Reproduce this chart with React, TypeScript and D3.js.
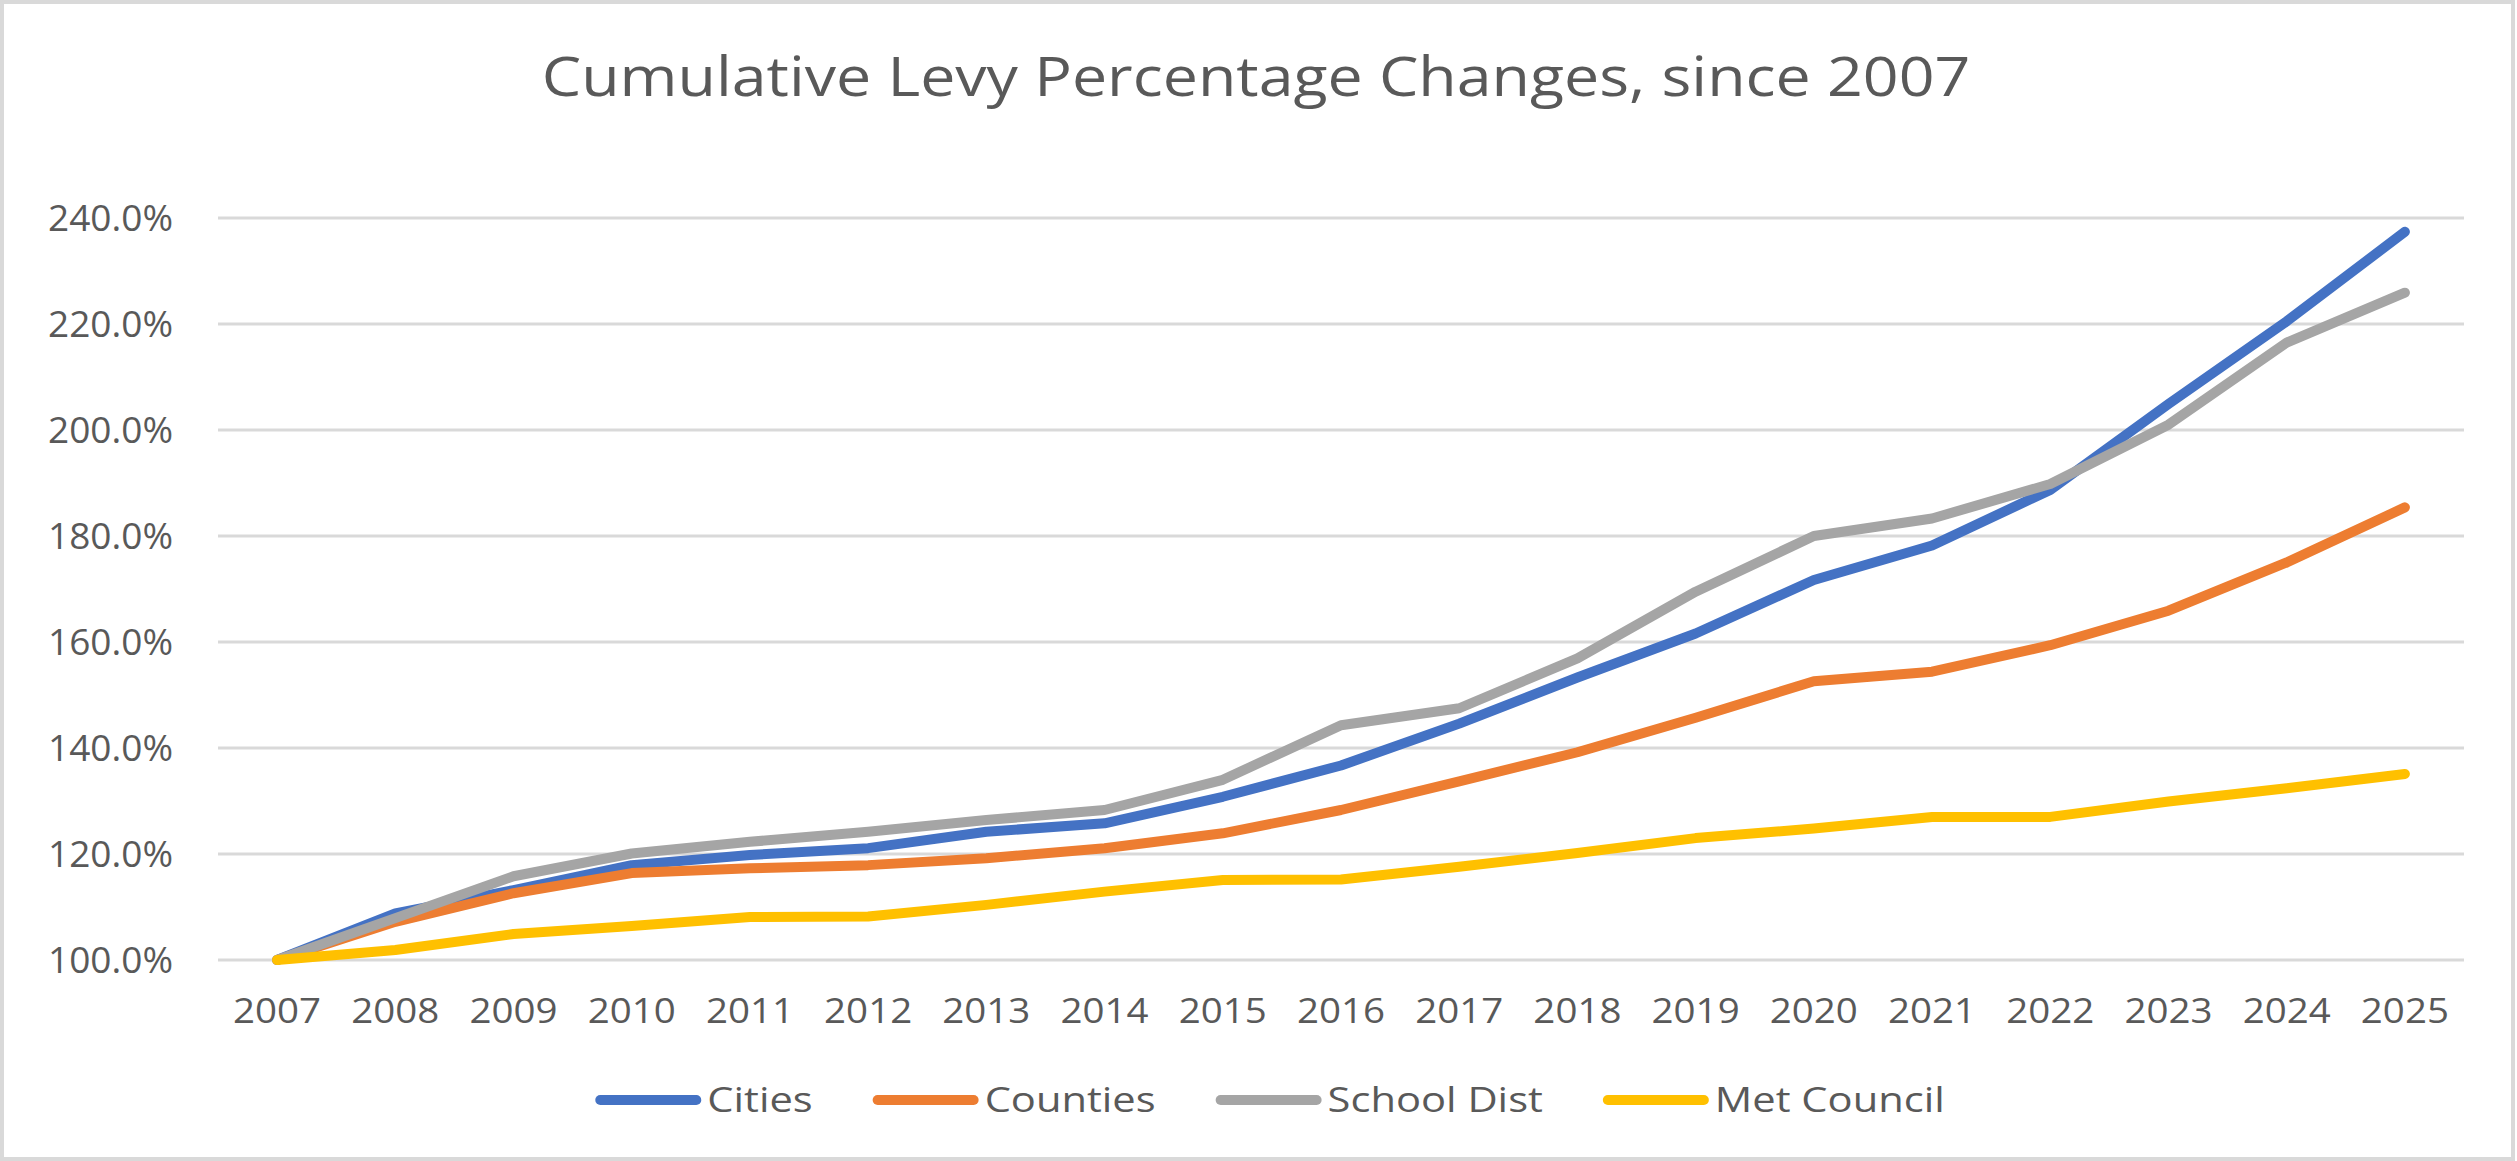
import { useEffect, useRef } from "react";
import * as d3 from "d3";

// chart data
const years = ["2007", "2008", "2009", "2010", "2011", "2012", "2013", "2014", "2015", "2016",
  "2017", "2018", "2019", "2020", "2021", "2022", "2023", "2024", "2025"];
const cities = [100, 108.8, 113.2, 117.9, 119.8, 121.1, 124.2, 125.8, 130.8, 136.7,
  144.6, 153.3, 161.6, 171.7, 178.2, 188.7, 204.9, 220.5, 237.4];
const counties = [100, 107.2, 112.6, 116.4, 117.3, 117.9, 119.2, 121.1, 123.9, 128.3,
  133.7, 139.2, 145.7, 152.6, 154.4, 159.4, 165.9, 175.0, 185.4];
const schoolDist = [100, 107.9, 115.8, 120.1, 122.3, 124.2, 126.4, 128.3, 134.0, 144.3,
  147.5, 156.9, 169.5, 180.0, 183.3, 189.8, 201.0, 216.5, 225.9];
const metCouncil = [100, 101.9, 104.9, 106.4, 108.1, 108.2, 110.4, 112.9, 115.1, 115.2,
  117.6, 120.2, 123.0, 124.8, 127.0, 127.0, 129.9, 132.4, 135.1];
const seriesNames = ["Cities", "Counties", "School Dist", "Met Council"];
const yTicks = [100, 120, 140, 160, 180, 200, 220, 240];

const colors = ["#4472C4", "#ED7D31", "#A5A5A5", "#FFC000"];
const FONT = "'Open Sans', sans-serif";
const TEXT = "#595959";

const W = 2517;
const H = 1161;

// stretch a text element horizontally (the reference glyphs are a bit wider)
const stretch = (t: d3.Selection<SVGTextElement, any, any, any>, k: number) => {
  const w = (t.node() as SVGTextElement).getComputedTextLength();
  t.attr("textLength", w * k).attr("lengthAdjust", "spacingAndGlyphs");
  return w * k;
};

export default function App() {
  const svgRef = useRef<SVGSVGElement>(null);

  useEffect(() => {
    const svg = d3.select(svgRef.current);
    svg.selectAll("*").remove();

    const allSeries = [cities, counties, schoolDist, metCouncil];

    const x = d3.scaleBand().domain(years).range([218, 2464]);
    const y = d3.scaleLinear().domain([100, 240]).range([960, 218]);
    const cx = (d: string) => (x(d) as number) + x.bandwidth() / 2;

    svg.append("rect")
      .attr("x", 2).attr("y", 2)
      .attr("width", W - 6).attr("height", H - 4)
      .attr("fill", "#fff")
      .attr("stroke", "#d9d9d9")
      .attr("stroke-width", 4);

    const title = svg.append("text")
      .attr("x", 1256).attr("y", 96)
      .attr("text-anchor", "middle")
      .attr("font-family", FONT)
      .attr("font-size", 54)
      .attr("fill", TEXT)
      .text("Cumulative Levy Percentage Changes, since 2007");
    stretch(title, 1.16);

    // gridlines + y labels
    svg.append("g")
      .selectAll("line")
      .data(yTicks)
      .join("line")
      .attr("x1", 218).attr("x2", 2464)
      .attr("y1", (d) => y(d)).attr("y2", (d) => y(d))
      .attr("stroke", "#d9d9d9")
      .attr("stroke-width", 3);

    svg.append("g")
      .selectAll("text")
      .data(yTicks)
      .join("text")
      .attr("x", 173)
      .attr("y", (d) => y(d))
      .attr("dy", "0.36em")
      .attr("text-anchor", "end")
      .attr("font-family", FONT)
      .attr("font-size", 37)
      .attr("fill", TEXT)
      .text((d) => d.toFixed(1) + "%");

    // x labels
    svg.append("g")
      .selectAll<SVGTextElement, string>("text")
      .data(years)
      .join("text")
      .attr("x", (d) => cx(d))
      .attr("y", 1023)
      .attr("text-anchor", "middle")
      .attr("font-family", FONT)
      .attr("font-size", 35)
      .attr("fill", TEXT)
      .text((d) => d)
      .each(function () {
        stretch(d3.select(this), 1.1);
      });

    const line = d3.line<number>()
      .x((_, i) => cx(years[i]))
      .y((d) => y(d));

    svg.append("g")
      .selectAll("path")
      .data(allSeries)
      .join("path")
      .attr("d", (d) => line(d))
      .attr("fill", "none")
      .attr("stroke", (_, i) => colors[i])
      .attr("stroke-width", 10)
      .attr("stroke-linejoin", "round")
      .attr("stroke-linecap", "round");

    // legend, laid out from measured text widths and centred
    const legend = svg.append("g");
    const swatch = 106;
    const gap = 6;
    const itemGap = 60;
    let pos = 0;
    seriesNames.forEach((name, i) => {
      const g = legend.append("g").attr("transform", `translate(${pos},0)`);
      g.append("line")
        .attr("x1", 5).attr("x2", swatch - 5)
        .attr("y1", 1100).attr("y2", 1100)
        .attr("stroke", colors[i])
        .attr("stroke-width", 10)
        .attr("stroke-linecap", "round");
      const t = g.append("text")
        .attr("x", swatch + gap)
        .attr("y", 1112)
        .attr("font-family", FONT)
        .attr("font-size", 35)
        .attr("fill", TEXT)
        .text(name);
      const w = stretch(t, 1.19);
      pos += swatch + gap + w + itemGap;
    });
    const total = pos - itemGap;
    legend.attr("transform", `translate(${1270 - total / 2},0)`);
  }, []);

  return (
    <svg
      ref={svgRef}
      width={W}
      height={H}
      style={{ position: "absolute", left: 0, top: 0 }}
    />
  );
}
